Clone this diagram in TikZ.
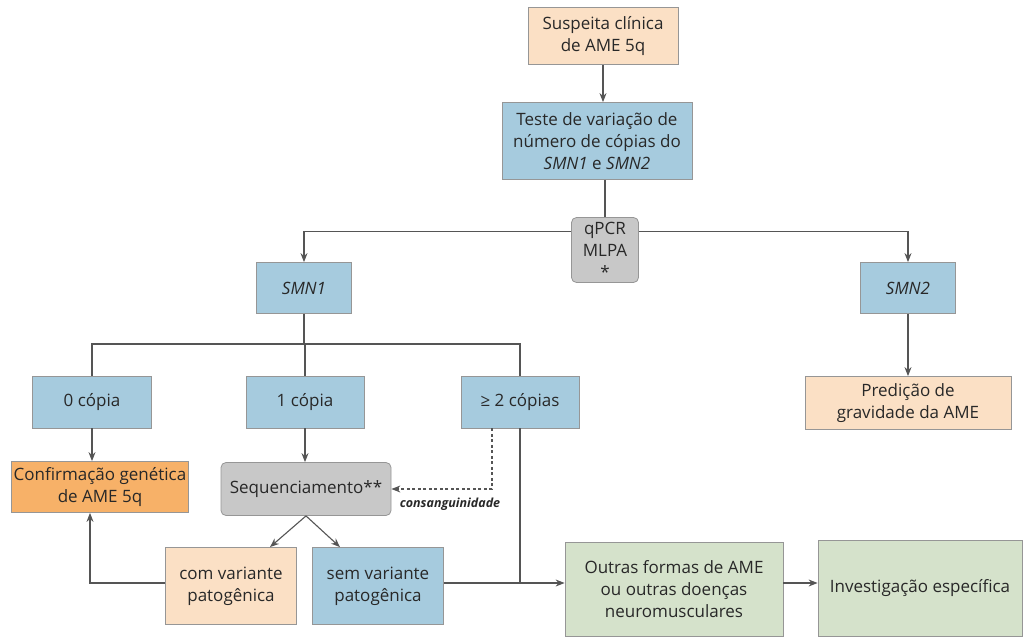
\documentclass[tikz,border=0pt]{standalone}
\usepackage{fontspec}
\setmainfont{Open Sans}
\usetikzlibrary{arrows.meta}
\usetikzlibrary{positioning}
\usetikzlibrary{calc}

\definecolor{peach}{RGB}{251,224,197}
\definecolor{smnblue}{RGB}{166,203,222}
\definecolor{confirm}{RGB}{247,177,104}
\definecolor{testgray}{RGB}{200,200,200}
\definecolor{othergreen}{RGB}{213,226,203}
\definecolor{boxline}{RGB}{150,150,150}
\definecolor{wire}{RGB}{85,85,85}
\definecolor{txt}{RGB}{40,40,40}

\begin{document}
\begin{tikzpicture}[x=1pt,y=-1pt]
  \tikzset{box/.style={draw=boxline,line width=0.8pt,inner sep=1pt,align=center,text=txt,
                       font=\fontsize{17}{22}\selectfont},
           peachbox/.style={box,minimum width=#1,fill=peach},
           bluebox/.style={box,minimum width=#1,fill=smnblue},
           greenbox/.style={box,minimum width=#1,fill=othergreen},
           graybox/.style={box,minimum width=#1,fill=testgray,rounded corners=5pt},
           link/.style={line width=1.1pt,draw=wire},
           flow/.style={link,-{Stealth[length=9pt,width=7pt]}},
           dashlink/.style={flow,dash pattern=on 3pt off 2.5pt}}
  \useasboundingbox (0,0) rectangle (1026,637);

  \node[peachbox=150pt,minimum height=57pt] (suspeita) at (603,36) {Suspeita clínica\\de AME 5q};
  \node[bluebox=190pt,minimum height=77pt] (teste) at (597,141)
    {Teste de variação de\\número de cópias do\\\textit{SMN1} e \textit{SMN2}};
  \node[graybox=67pt,minimum height=65pt] (qpcr) at (605,250) {qPCR\\MLPA\\*};
  \node[bluebox=95pt,minimum height=51pt] (smn1) at (304,288) {\textit{SMN1}};
  \node[bluebox=95pt,minimum height=51pt] (smn2) at (908,288) {\textit{SMN2}};
  \node[bluebox=119pt,minimum height=52pt] (zero) at (92,402) {0 cópia};
  \node[bluebox=118pt,minimum height=52pt] (um) at (305,402) {1 cópia};
  \node[bluebox=118pt,minimum height=52pt] (dois) at (520,402) {≥ 2 cópias};
  \node[peachbox=206pt,minimum height=53pt] (pred) at (908,403) {Predição de\\gravidade da AME};
  \node[box,fill=confirm,minimum width=177pt,minimum height=51pt] (conf) at (100,487)
    {Confirmação genética\\de AME 5q};
  \node[graybox=170pt,minimum height=53pt] (seq) at (306,489) {Sequenciamento**};
  \node[peachbox=131pt,minimum height=77pt] (com) at (231,586) {com variante\\patogênica};
  \node[bluebox=131pt,minimum height=77pt] (sem) at (378,586) {sem variante\\patogênica};
  \node[greenbox=218pt,minimum height=94pt] (outras) at (674,589)
    {Outras formas de AME\\ou outras doenças\\neuromusculares};
  \node[greenbox=204pt,minimum height=96pt] (invest) at (920,588) {Investigação específica};
  \node[text=txt,font=\fontsize{12.5}{14}\selectfont\bfseries\itshape] (consang) at (450,504) {consanguinidade};

  \coordinate (split) at ($(qpcr.north)+(0,14)$);
  \coordinate (fork) at (305,344);
  \coordinate (merge) at ([yshift=3pt]sem.east);

  \draw[flow] (suspeita.south) -- (suspeita.south |- teste.north);
  \draw[link] (teste.south -| qpcr.north) -- (qpcr.north);
  \draw[flow] (split -| qpcr.west) -| (smn1.north);
  \draw[flow] (split -| qpcr.east) -| (smn2.north);
  \draw[flow] (smn2.south) -- (smn2.south |- pred.north);
  \draw[link] (smn1.south) -- (smn1.south |- fork);
  \draw[link] (zero.north) |- (fork) -| (dois.north);
  \draw[link] (um.north) -- (um.north |- fork);
  \draw[flow] (zero.south) -- (zero.south |- conf.north);
  \draw[flow] (um.south) -- (um.south |- seq.north);
  \draw[flow] (seq.south) -- ([xshift=39pt]com.north);
  \draw[flow] (seq.south) -- ([xshift=-38pt]sem.north);
  \draw[flow] ([yshift=3pt]com.west) -| ([xshift=-10pt]conf.south);
  \draw[dashlink] ([xshift=-28pt]dois.south) |- (seq.east);
  \draw[link] (dois.south) -- (merge -| dois.south);
  \draw[flow] (merge) -- (merge -| outras.west);
  \draw[flow] (outras.east |- merge) -- (invest.west |- merge);
\end{tikzpicture}
\end{document}
